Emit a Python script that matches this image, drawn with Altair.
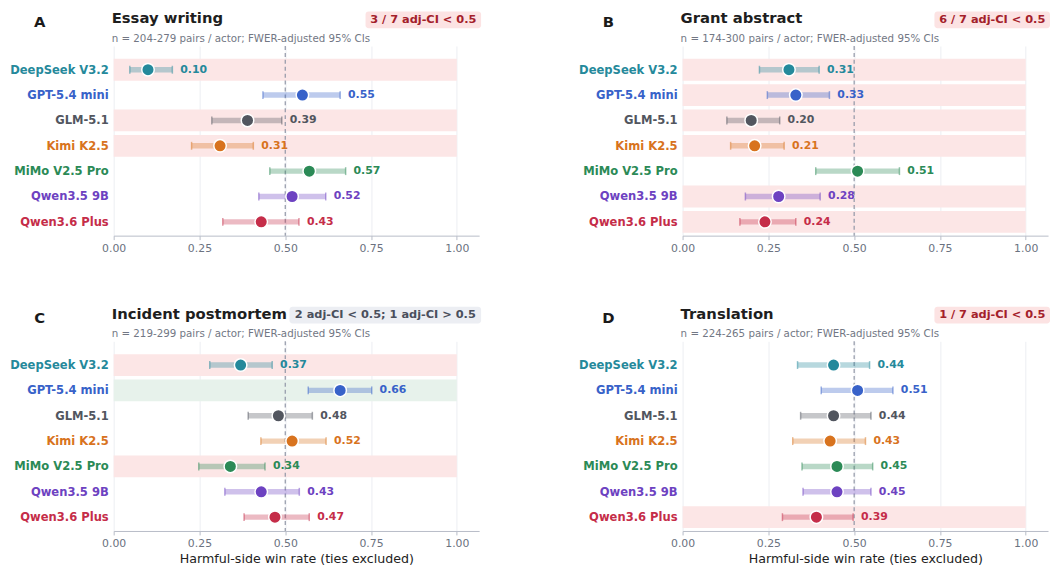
import altair as alt
import pandas as pd

FONT = "DejaVu Sans"

models = ["DeepSeek V3.2", "GPT-5.4 mini", "GLM-5.1", "Kimi K2.5",
          "MiMo V2.5 Pro", "Qwen3.5 9B", "Qwen3.6 Plus"]
model_colors = ["#25899b", "#3862c9", "#52565f", "#d8731e",
                "#2b8a56", "#6d42c1", "#c52d49"]

panel_letters = ["A", "B", "C", "D"]
task_titles = ["Essay writing", "Grant abstract", "Incident postmortem", "Translation"]
subtitles = ["n = 204-279 pairs / actor; FWER-adjusted 95% CIs",
             "n = 174-300 pairs / actor; FWER-adjusted 95% CIs",
             "n = 219-299 pairs / actor; FWER-adjusted 95% CIs",
             "n = 224-265 pairs / actor; FWER-adjusted 95% CIs"]
badges = ["3 / 7 adj-CI < 0.5", "6 / 7 adj-CI < 0.5",
          "2 adj-CI < 0.5; 1 adj-CI > 0.5", "1 / 7 adj-CI < 0.5"]
badge_kind = ["red", "red", "gray", "red"]

essay_est = [0.10, 0.55, 0.39, 0.31, 0.57, 0.52, 0.43]
essay_lo = [0.047, 0.435, 0.286, 0.227, 0.455, 0.423, 0.318]
essay_hi = [0.171, 0.660, 0.490, 0.407, 0.676, 0.618, 0.540]

grant_est = [0.31, 0.33, 0.20, 0.21, 0.51, 0.28, 0.24]
grant_lo = [0.224, 0.247, 0.129, 0.140, 0.388, 0.183, 0.167]
grant_hi = [0.398, 0.428, 0.283, 0.296, 0.632, 0.401, 0.330]

incident_est = [0.37, 0.66, 0.48, 0.52, 0.34, 0.43, 0.47]
incident_lo = [0.280, 0.567, 0.392, 0.429, 0.248, 0.324, 0.380]
incident_hi = [0.462, 0.752, 0.579, 0.619, 0.441, 0.541, 0.570]

transl_est = [0.44, 0.51, 0.44, 0.43, 0.45, 0.45, 0.39]
transl_lo = [0.335, 0.404, 0.344, 0.321, 0.348, 0.351, 0.291]
transl_hi = [0.545, 0.613, 0.549, 0.533, 0.554, 0.549, 0.497]

W, H = 370, 192
xs = alt.Scale(domain=[0, 1.065], nice=False, zero=False)
ys = alt.Scale(domain=[6.545, -0.935], nice=False, zero=False)
cs = alt.Scale(domain=models, range=model_colors)


def xaxis(title):
    kw = dict(values=[0, 0.25, 0.5, 0.75, 1.0], format=".2f", grid=True,
              gridColor="#eceef2", gridWidth=1, domainColor="#b7bcc7",
              tickColor="#b7bcc7", tickSize=4, labelColor="#6b7280",
              labelFontSize=11, labelPadding=3, labelFont=FONT, labelFlush=False)
    if title:
        kw.update(title=title, titleFontSize=12.8, titleFontWeight="normal",
                  titleColor="#222222", titlePadding=4, titleFont=FONT)
    else:
        kw.update(title=None)
    return alt.Axis(**kw)


def panel(i, est, lo, hi, xtitle):
    ax = xaxis(xtitle)
    df = pd.DataFrame({"model": models, "row": list(range(len(models))),
                       "est": est, "lo": lo, "hi": hi})
    df["label"] = [f"{v:.2f}" for v in est]
    df["kind"] = ["below" if h < 0.5 else ("above" if l > 0.5 else "none")
                  for l, h in zip(lo, hi)]
    df["r0"] = df["row"] - 0.43
    df["r1"] = df["row"] + 0.43
    df["b0"] = 0.0
    df["b1"] = 1.0
    base = alt.Chart(df)
    X = lambda f: alt.X(f"{f}:Q", scale=xs, axis=ax)
    Y = lambda f: alt.Y(f"{f}:Q", scale=ys, axis=None)
    C = alt.Color("model:N", scale=cs, legend=None)

    band_red = base.transform_filter("datum.kind == 'below'").mark_rect(
        fill="#fce6e6").encode(x=X("b0"), x2="b1:Q", y=Y("r0"), y2="r1:Q")
    band_green = base.transform_filter("datum.kind == 'above'").mark_rect(
        fill="#e7f2eb").encode(x=X("b0"), x2="b1:Q", y=Y("r0"), y2="r1:Q")
    ref = alt.Chart(pd.DataFrame({"v": [0.5]})).mark_rule(
        color="#9096a6", strokeDash=[4, 3], strokeWidth=1.2).encode(x=X("v"))
    bar = base.mark_rule(strokeWidth=5.5, opacity=0.33).encode(
        x=X("lo"), x2="hi:Q", y=Y("row"), color=C)
    cap_lo = base.mark_tick(orient="vertical", size=8, thickness=1.5, opacity=0.5).encode(
        x=X("lo"), y=Y("row"), color=C)
    cap_hi = base.mark_tick(orient="vertical", size=8, thickness=1.5, opacity=0.5).encode(
        x=X("hi"), y=Y("row"), color=C)
    pts = base.mark_circle(size=160, opacity=1, stroke="white", strokeWidth=1.5).encode(
        x=X("est"), y=Y("row"), fill=alt.Fill("model:N", scale=cs, legend=None))
    vals = base.mark_text(align="left", baseline="middle", dx=8, font=FONT,
                          fontSize=11, fontWeight="bold").encode(
        x=X("hi"), y=Y("row"), text="label:N", color=C)
    ylab = base.mark_text(align="right", baseline="middle", font=FONT,
                          fontSize=11.7, fontWeight="bold").encode(
        x=alt.value(-5), y=Y("row"), text="model:N", color=C)

    hd = pd.DataFrame({"letter": [panel_letters[i]], "title": [task_titles[i]],
                       "sub": [subtitles[i]], "badge": [badges[i]]})
    hb = alt.Chart(hd)
    letter = hb.mark_text(font=FONT, fontSize=15, fontWeight="bold", color="#1a1a1a",
                          align="center", baseline="alphabetic").encode(
        x=alt.value(-75), y=alt.value(-19), text="letter:N")
    title = hb.mark_text(font=FONT, fontSize=15, fontWeight="bold", color="#1e1e1e",
                         align="left", baseline="alphabetic").encode(
        x=alt.value(-2), y=alt.value(-23), text="title:N")
    sub = hb.mark_text(font=FONT, fontSize=10.4, color="#727784",
                       align="left", baseline="alphabetic").encode(
        x=alt.value(-2), y=alt.value(-4), text="sub:N")
    if badge_kind[i] == "red":
        bfill, bcol = "#fce3e3", "#a3202a"
    else:
        bfill, bcol = "#eceef3", "#4a4f5c"
    bx0 = 178 if badge_kind[i] == "gray" else 255
    bx1 = 372
    brect = hb.mark_rect(fill=bfill, cornerRadius=3).encode(
        x=alt.value(bx0), x2=alt.value(bx1), y=alt.value(-35), y2=alt.value(-18))
    btxt = hb.mark_text(font=FONT, fontSize=11.5, fontWeight="bold", color=bcol,
                        align="center", baseline="middle").encode(
        x=alt.value((bx0 + bx1) / 2), y=alt.value(-26.5), text="badge:N")

    return alt.layer(band_red, band_green, ref, bar, cap_lo, cap_hi, pts, vals, ylab,
                     letter, title, sub, brect, btxt).properties(width=W, height=H)


pA = panel(0, essay_est, essay_lo, essay_hi, None)
pB = panel(1, grant_est, grant_lo, grant_hi, None)
pC = panel(2, incident_est, incident_lo, incident_hi, "Harmful-side win rate (ties excluded)")
pD = panel(3, transl_est, transl_lo, transl_hi, "Harmful-side win rate (ties excluded)")

chart = alt.vconcat(
    alt.hconcat(pA, pB, spacing=99),
    alt.hconcat(pC, pD, spacing=99),
    spacing=54,
).properties(
    padding={"left": 2, "top": 0, "right": 0, "bottom": 0},
    background="white",
).configure(font=FONT).configure_view(stroke=None)

chart.save("out.html", embed_options={"renderer": "svg", "actions": False})
